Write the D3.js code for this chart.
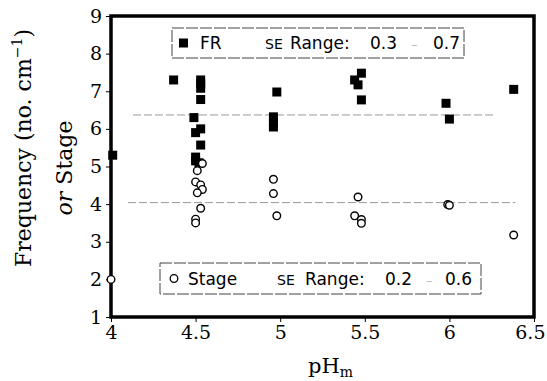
<!DOCTYPE html>
<html><head><meta charset="utf-8">
<script src="https://cdn.jsdelivr.net/npm/d3@7"></script>
<style>body{margin:0;background:#fff}</style>
</head><body>
<svg id="c" width="547" height="381"></svg>
<script>
const frX = [4.01,4.37,4.53,4.53,4.53,4.53,4.49,4.53,4.50,4.53,4.50,4.50,4.52,4.98,4.96,4.96,4.96,5.48,5.44,5.46,5.48,5.98,6.00,6.38];
const frY = [5.30,7.30,7.30,7.20,7.08,6.78,6.30,6.00,5.90,5.57,5.25,5.15,5.10,6.98,6.32,6.18,6.05,7.48,7.30,7.17,6.77,6.68,6.26,7.05];
const stX = [4.00,4.54,4.51,4.50,4.53,4.54,4.51,4.53,4.50,4.50,4.96,4.96,4.98,5.46,5.44,5.48,5.48,5.99,6.00,6.38];
const stY = [2.00,5.08,4.89,4.59,4.51,4.39,4.30,3.89,3.60,3.50,4.66,4.28,3.69,4.19,3.69,3.59,3.49,3.99,3.97,3.18];
const xTicks = [4,4.5,5,5.5,6,6.5];
const yTicks = [1,2,3,4,5,6,7,8,9];
const meanLines = [{name:"FR", y:6.37, x0:4.13, x1:6.26},{name:"Stage", y:4.04, x0:4.10, x1:6.39}];

const svg = d3.select("#c");
const x = d3.scaleLinear().domain([4,6.5]).range([111,534]);
const y = d3.scaleLinear().domain([1,9]).range([317,16]);
const serif = "'DejaVu Serif', serif";
const sans = "'DejaVu Sans', sans-serif";

// axes
const ya = svg.append("g").attr("transform",`translate(${x(4)},0)`)
  .call(d3.axisLeft(y).tickValues(yTicks).tickFormat(d3.format("d")).tickSize(5).tickPadding(4));
ya.select(".domain").remove();
ya.selectAll("text").attr("font-family",serif).attr("font-size",19).attr("fill","#000");
const xa = svg.append("g").attr("transform",`translate(0,${y(1)})`)
  .call(d3.axisBottom(x).tickValues(xTicks).tickFormat(d=>String(d)).tickSize(5).tickPadding(4));
xa.select(".domain").remove();
xa.selectAll("text").attr("font-family",serif).attr("font-size",19).attr("fill","#000");
xa.selectAll(".tick").filter(d=>d===6.5).select("text").attr("text-anchor","end").attr("x",11);

// mean lines
svg.selectAll(".ml").data(meanLines).enter().append("line")
  .attr("x1",d=>x(d.x0)).attr("x2",d=>x(d.x1)).attr("y1",d=>y(d.y)).attr("y2",d=>y(d.y))
  .attr("stroke","#999").attr("stroke-width",1).attr("stroke-dasharray","8,3");

// frame
svg.append("rect").attr("x",x(4)).attr("y",y(9)).attr("width",x(6.5)-x(4)).attr("height",y(1)-y(9))
  .attr("fill","none").attr("stroke","#000").attr("stroke-width",3.5);

// data
svg.selectAll(".fr").data(frX.map((v,i)=>[v,frY[i]])).enter().append("rect")
  .attr("x",d=>x(d[0])-4.5).attr("y",d=>y(d[1])-4.5).attr("width",9).attr("height",9).attr("fill","#000");
svg.selectAll(".st").data(stX.map((v,i)=>[v,stY[i]])).enter().append("circle")
  .attr("cx",d=>x(d[0])).attr("cy",d=>y(d[1])).attr("r",3.8)
  .attr("fill","#fff").attr("stroke","#000").attr("stroke-width",1.4);

// legends
function legend(x0,y0,w,h,marker,label,se,off){
  const g = svg.append("g");
  g.append("rect").attr("x",x0).attr("y",y0).attr("width",w).attr("height",h)
    .attr("fill","#fff").attr("stroke","#444").attr("stroke-width",1).attr("stroke-dasharray","12,2");
  const cy = y0+h/2;
  if(marker==="sq") g.append("rect").attr("x",x0+7).attr("y",cy-4.5).attr("width",9).attr("height",9).attr("fill","#000");
  else g.append("circle").attr("cx",x0+14).attr("cy",cy).attr("r",3.8).attr("fill","#fff").attr("stroke","#000").attr("stroke-width",1.3);
  const by = cy+6;
  g.append("text").attr("x",x0+28).attr("y",by).text(label).attr("font-family",sans).attr("font-size",17);
  g.append("text").attr("x",se).attr("y",by).text("SE").attr("font-family",sans).attr("font-size",14);
  g.append("text").attr("x",se+off[0]).attr("y",by).text("Range:").attr("font-family",sans).attr("font-size",17);
  g.append("text").attr("x",se+off[1]).attr("y",by).text(off[4]).attr("font-family",sans).attr("font-size",17);
  g.append("text").attr("x",se+off[2]).attr("y",by).text("–").attr("font-family",sans).attr("font-size",13).attr("fill","#bbb");
  g.append("text").attr("x",se+off[3]).attr("y",by).text(off[5]).attr("font-family",sans).attr("font-size",17);
}
legend(172,28,292,30,"sq","FR",265,[25,105,146,168,"0.3","0.7"]);
legend(160,263,321,31,"ci","Stage",277,[28,108,149,168,"0.2","0.6"]);

// axis titles
const xt = svg.append("text").attr("x",308).attr("y",373).attr("font-family",serif).attr("font-size",21);
xt.append("tspan").text("pH");
xt.append("tspan").text("m").attr("font-size",14).attr("dy",4);
const t1 = svg.append("text").attr("transform","translate(31,148) rotate(-90)").attr("text-anchor","middle")
  .attr("font-family",serif).attr("font-size",22);
t1.append("tspan").text("Frequency (no. cm");
t1.append("tspan").text("−1").attr("font-size",14).attr("dy",-9);
t1.append("tspan").text(")").attr("dy",9);
const t2 = svg.append("text").attr("transform","translate(72,168) rotate(-90)").attr("text-anchor","middle")
  .attr("font-family",serif).attr("font-size",22);
t2.append("tspan").text("or").attr("font-style","italic");
t2.append("tspan").text(" Stage");
</script>
</body></html>
